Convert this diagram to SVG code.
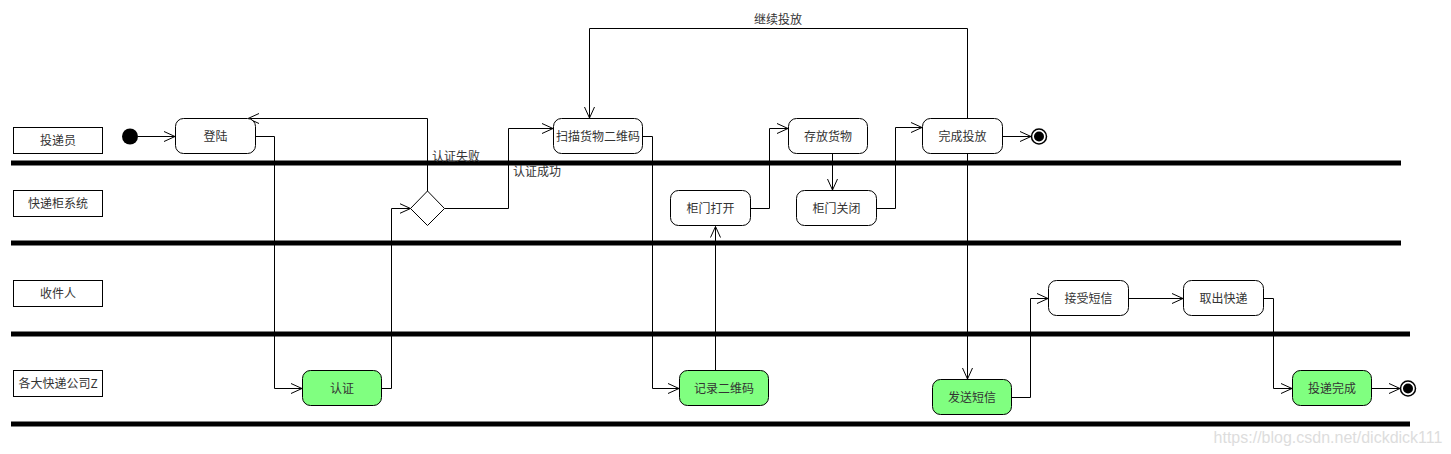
<svg xmlns="http://www.w3.org/2000/svg" width="1451" height="454" viewBox="0 0 1451 454">
<defs>
<marker id="arr" viewBox="0 0 12 12" refX="11" refY="6" markerWidth="12" markerHeight="12" markerUnits="userSpaceOnUse" orient="auto">
<path d="M0,1 L11,6 L0,11" fill="none" stroke="#000" stroke-width="1"/>
</marker>
<style>
text{font-family:"Noto Sans CJK SC","Liberation Sans",sans-serif;font-size:12px;fill:#333;text-anchor:middle;dominant-baseline:central}
.lane rect{fill:#fff;stroke:#000;stroke-width:1}
.act{fill:#fff;stroke:#000;stroke-width:1}
.g{fill:#80ff80}
.sep{stroke:#000;stroke-width:5}
.c{fill:none;stroke:#000;stroke-width:1;marker-end:url(#arr)}
.lbl{text-anchor:start}
</style>
</defs>
<rect width="1451" height="454" fill="#fff"/>
<g id="separators">
<line class="sep" x1="11" y1="163" x2="1401" y2="163"/>
<line class="sep" x1="11" y1="243" x2="1401" y2="243"/>
<line class="sep" x1="11" y1="334" x2="1410" y2="334"/>
<line class="sep" x1="11" y1="424" x2="1410" y2="424"/>
</g>
<g id="lane1" class="lane"><rect x="13.5" y="127.5" width="89" height="26"/><text x="58" y="139">投递员</text></g>
<g id="lane2" class="lane"><rect x="13.5" y="190.5" width="89" height="26"/><text x="58" y="202">快递柜系统</text></g>
<g id="lane3" class="lane"><rect x="13.5" y="280.5" width="89" height="26"/><text x="58" y="292">收件人</text></g>
<g id="lane4" class="lane"><rect x="13.5" y="370.5" width="89" height="26"/><text x="58" y="382">各大快递公司Z</text></g>

<g id="connectors">
<path class="c" d="M138,136.5 H175"/>
<path class="c" d="M255.5,136.5 H274.5 V388.5 H302"/>
<path class="c" d="M381.5,388.5 H391.5 V208.5 H410.5"/>
<path class="c" d="M427.5,191 V118.5 H248"/>
<path class="c" d="M444.5,208.5 H508.5 V128.5 H553"/>
<path class="c" d="M642.5,136.5 H652.5 V388.5 H679"/>
<path class="c" d="M715.5,370 V226.5"/>
<path class="c" d="M750.5,208.5 H769.5 V128.5 H788"/>
<path class="c" d="M832.5,153.5 V190"/>
<path class="c" d="M876.5,208.5 H895.5 V127.5 H922"/>
<path class="c" d="M1002.5,136.5 H1031"/>
<path class="c" d="M967.5,118 V28.5 H589.5 V118"/>
<path class="c" d="M967.5,153.5 V379"/>
<path class="c" d="M1011.5,397.5 H1030.5 V298.5 H1048"/>
<path class="c" d="M1128.5,298.5 H1183"/>
<path class="c" d="M1263.5,298.5 H1273.5 V388.5 H1292"/>
<path class="c" d="M1371.5,388.5 H1400"/>
<text class="lbl" x="432" y="155">认证失败</text>
<text class="lbl" x="513" y="170">认证成功</text>
<text x="778" y="18">继续投放</text>
</g>

<g id="start"><circle cx="130" cy="136.5" r="8" fill="#000"/></g>
<g id="n_login"><rect class="act" x="175.5" y="118.5" width="80" height="35" rx="8"/><text x="215.5" y="135">登陆</text></g>
<g id="n_auth"><rect class="act g" x="302.5" y="370.5" width="79" height="35" rx="8"/><text x="342" y="387">认证</text></g>
<g id="n_decision"><path class="act" d="M427.5,191 L444.5,208.5 L427.5,225.5 L410.5,208.5 Z"/></g>
<g id="n_scan"><rect class="act" x="553.5" y="118.5" width="89" height="35" rx="8"/><text x="598" y="135">扫描货物二维码</text></g>
<g id="n_record"><rect class="act g" x="679.5" y="370.5" width="89" height="35" rx="8"/><text x="724" y="387">记录二维码</text></g>
<g id="n_open"><rect class="act" x="670.5" y="190.5" width="80" height="35" rx="8"/><text x="710.5" y="207">柜门打开</text></g>
<g id="n_store"><rect class="act" x="788.5" y="118.5" width="79" height="35" rx="8"/><text x="828" y="135">存放货物</text></g>
<g id="n_close"><rect class="act" x="796.5" y="190.5" width="80" height="35" rx="8"/><text x="836.5" y="207">柜门关闭</text></g>
<g id="n_finish"><rect class="act" x="922.5" y="118.5" width="80" height="35" rx="8"/><text x="962.5" y="135">完成投放</text></g>
<g id="end1"><circle cx="1039" cy="136.5" r="7.5" fill="#fff" stroke="#000" stroke-width="1.5"/><circle cx="1039" cy="136.5" r="5" fill="#000"/></g>
<g id="n_sms"><rect class="act g" x="932.5" y="379.5" width="79" height="35" rx="8"/><text x="972" y="396">发送短信</text></g>
<g id="n_recv"><rect class="act" x="1048.5" y="280.5" width="80" height="35" rx="8"/><text x="1088.5" y="297">接受短信</text></g>
<g id="n_pick"><rect class="act" x="1183.5" y="280.5" width="80" height="35" rx="8"/><text x="1223.5" y="297">取出快递</text></g>
<g id="n_done"><rect class="act g" x="1292.5" y="370.5" width="79" height="35" rx="8"/><text x="1332" y="387">投递完成</text></g>
<g id="end2"><circle cx="1408" cy="388.5" r="7.5" fill="#fff" stroke="#000" stroke-width="1.5"/><circle cx="1408" cy="388.5" r="5" fill="#000"/></g>
<text x="1328" y="437" style="font-family:'Liberation Sans',sans-serif;font-size:16px;fill:#ddd">https://blog.csdn.net/dickdick111</text>
</svg>
